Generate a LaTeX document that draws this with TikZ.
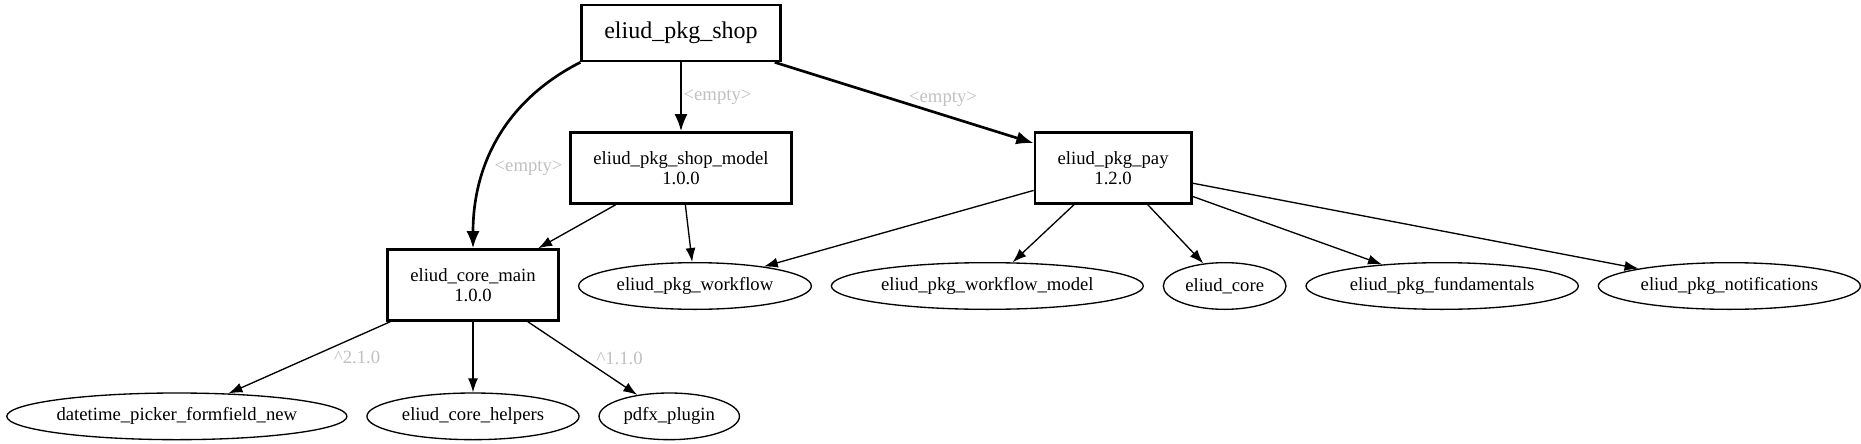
\documentclass[tikz,border=0pt]{standalone}
\usepackage{fontspec}
\setmainfont{Liberation Serif}
\usepackage{tikz}
\usetikzlibrary{arrows.meta, positioning, shapes.geometric}

\definecolor{lblgray}{HTML}{C0C0C0}

\begin{document}
\begin{tikzpicture}[
  x=0.75pt, y=-0.75pt,
  >={Latex[length=10.5pt, width=7.5pt]},
  pkg/.style      = {draw, rectangle, line width=2pt, inner xsep=17pt, minimum height=53pt,
                     align=center, font=\fontsize{14}{15}\selectfont},
  dep/.style      = {draw, ellipse, line width=1pt, inner xsep=3pt, inner ysep=1pt,
                     minimum height=35pt, font=\fontsize{14}{15}\selectfont},
  link/.style     = {->, line width=1pt},
  mainlink/.style = {-{Latex[length=13pt, width=10pt]}, line width=2pt},
  lbl/.style      = {font=\fontsize{14}{15}\selectfont, text=lblgray, inner sep=0pt},
]
  \useasboundingbox (0,0) rectangle (1861,443);

%--- Packages (boxes) ---
  \node[pkg, minimum height=42pt, font=\fontsize{18}{20}\selectfont]
                                              (shop)     at (681,33)  {eliud\_pkg\_shop};
  \node[pkg, below=51.75pt of shop]           (model)    {eliud\_pkg\_shop\_model\\1.0.0};
  \node[pkg, right=180.75pt of model]         (pay)      {eliud\_pkg\_pay\\1.2.0};
  \node[pkg]                                  (coremain) at (473,285) {eliud\_core\_main\\1.0.0};

%--- Dependencies (ellipses) ---
  \node[dep]                                  (wf)       at (695,286) {eliud\_pkg\_workflow};
  \node[dep, right=14pt of wf]                (wfmodel)  {eliud\_pkg\_workflow\_model};
  \node[dep, right=14pt of wfmodel]           (core)     {eliud\_core};
  \node[dep, right=14pt of core]              (fund)     {eliud\_pkg\_fundamentals};
  \node[dep, right=14pt of fund]              (notif)    {eliud\_pkg\_notifications};

  \node[dep, below=53pt of coremain]          (helpers)  {eliud\_core\_helpers};
  \node[dep, inner xsep=0pt, left=14pt of helpers]
                                              (datetime) {datetime\_picker\_formfield\_new};
  \node[dep, right=14pt of helpers]           (pdfx)     {pdfx\_plugin};

%--- Edges ---
  \draw[mainlink] (shop) -- node[lbl, right=1pt, midway] {\textless empty\textgreater} (model);
  \draw[mainlink] (shop) -- node[lbl, above=5pt, pos=0.65] {\textless empty\textgreater} (pay);
  \draw[mainlink] (shop.south west) to[out=207, in=90]
        node[lbl, right=6pt, pos=0.65] {\textless empty\textgreater} (coremain.north);

  \draw[link] (model) -- (coremain);
  \draw[link] (model) -- (wf);

  \draw[link] (pay) -- (wf);
  \draw[link] (pay) -- (wfmodel);
  \draw[link] (pay) -- (core);
  \draw[link] (pay) -- (fund);
  \draw[link] (pay) -- (notif);

  \draw[link] (coremain) -- node[lbl, right=18pt, midway] {\textasciicircum 2.1.0} (datetime);
  \draw[link] (coremain) -- (helpers);
  \draw[link] (coremain) -- node[lbl, right=10pt, midway] {\textasciicircum 1.1.0} (pdfx);
\end{tikzpicture}
\end{document}
